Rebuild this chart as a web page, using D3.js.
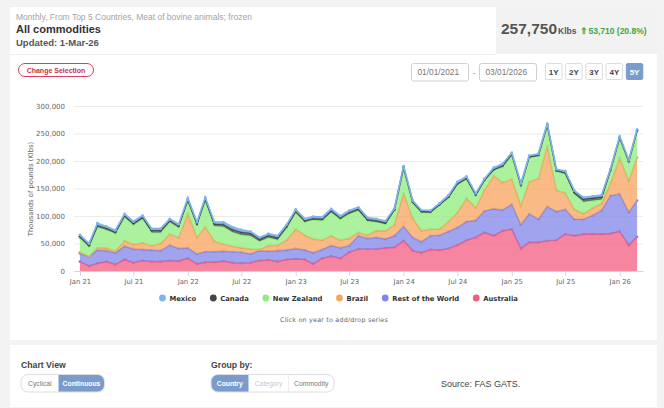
<!DOCTYPE html>
<html>
<head>
<meta charset="utf-8">
<script src="https://cdn.jsdelivr.net/npm/d3@7"></script>
<style>
body { margin: 0; background: #f3f3f3; }
svg { display: block; font-family: "Liberation Sans", Arial, sans-serif; }
.chart text { font-family: "DejaVu Sans", sans-serif; }
</style>
</head>
<body>
<div class="content"></div>
<script>
// monthly, Jan 2021 .. Mar 2026 (Klbs)
var months = d3.timeMonth.range(new Date(2021, 0, 1), new Date(2026, 3, 1));

var australia = [17000, 9000, 14000, 17000, 12000, 21000, 15000, 19000, 17000, 17000,
  19000, 18000, 23000, 13000, 16000, 16000, 18000, 15000, 14000, 15000,
  19000, 20000, 17000, 21000, 22000, 21000, 13000, 23000, 27000, 23000,
  34000, 40000, 40000, 40000, 42000, 43000, 55000, 37000, 33000, 39000,
  38000, 41000, 47000, 56000, 61000, 70000, 64000, 73000, 76000, 41000,
  52000, 52000, 55000, 56000, 67000, 64000, 67000, 67000, 67000, 68000,
  72000, 47000, 62100];
var restOfWorld = [15000, 17000, 24000, 20000, 21000, 24000, 25000, 20000, 21000, 20000,
  28000, 23000, 19000, 18000, 19000, 19000, 18000, 20000, 20000, 16000,
  18000, 16000, 20000, 17000, 19000, 17000, 20000, 16000, 19000, 19000,
  12000, 24000, 19000, 21000, 16000, 21000, 26000, 24000, 20000, 25000,
  27000, 31000, 32000, 34000, 31000, 39000, 49000, 38000, 45000, 43000,
  52000, 42000, 62000, 52000, 45000, 30000, 27000, 34000, 43000, 69000,
  68000, 60000, 66200];
var brazil = [2000, 1000, 4000, 5000, 3000, 10000, 8000, 12000, 8000, 13000,
  20000, 20000, 62000, 30000, 45000, 19000, 13000, 10000, 8000, 9000,
  2000, 10000, 10000, 18000, 35000, 27000, 25000, 17000, 18000, 14000,
  13000, 6000, 6000, 12000, 15000, 20000, 60000, 35000, 20000, 12000,
  11000, 18000, 27000, 42000, 23000, 38000, 60000, 50000, 46000, 35000,
  58000, 74000, 110000, 39000, 30000, 18000, 10000, 13000, 13000, 22000,
  65000, 57000, 77900];
var newZealand = [26000, 17000, 38000, 33000, 32000, 43000, 36000, 44000, 24000, 20000,
  22000, 18000, 23000, 22000, 48000, 28000, 32000, 26000, 24000, 24000,
  15000, 15000, 10000, 22000, 30000, 24000, 35000, 36000, 43000, 38000,
  45000, 40000, 26000, 16000, 12000, 26000, 45000, 27000, 33000, 30000,
  43000, 43000, 51000, 35000, 22000, 17000, 10000, 28000, 43000, 36000,
  44000, 41000, 37000, 34000, 35000, 28000, 22000, 14000, 7000, 23000,
  36000, 34000, 47650];
var canada = [3000, 3000, 3000, 3000, 3000, 3000, 3000, 3000, 4000, 4000,
  3000, 3000, 3000, 3000, 3000, 4000, 4000, 5000, 5000, 5000,
  4000, 4000, 4000, 3000, 3000, 3000, 3000, 3000, 3000, 3000,
  3000, 3000, 3000, 3000, 3000, 2000, 3000, 3000, 3000, 2000,
  2000, 2000, 2000, 2000, 2000, 2000, 2000, 3000, 3000, 2000,
  2000, 2000, 2000, 2000, 2000, 3000, 5000, 5000, 5000, 2000,
  2000, 2000, 2100];
var mexico = [3000, 3000, 4000, 3000, 3000, 3000, 3000, 3000, 3000, 3000,
  3000, 3000, 3000, 3000, 3000, 3000, 4000, 4000, 4000, 3000,
  3000, 3000, 3000, 3000, 3000, 3000, 3000, 3000, 3000, 3000,
  3000, 3000, 3000, 3000, 3000, 2000, 2000, 2000, 2000, 2000,
  2000, 3000, 3000, 3000, 2000, 2000, 3000, 3000, 2000, 2000,
  2000, 2000, 2000, 2000, 3000, 3000, 3000, 3000, 3000, 2000,
  2000, 2000, 1800];

var seriesNames = ["Mexico", "Canada", "New Zealand", "Brazil", "Rest of the World", "Australia"];
var seriesColors = ["#7cb5ec", "#434348", "#90ed7d", "#f7a35c", "#8085e9", "#f15c80"];
var yTicks = [0, 50000, 100000, 150000, 200000, 250000, 300000];

var rows = months.map(function (m, i) {
  return {
    date: m,
    "Mexico": mexico[i],
    "Canada": canada[i],
    "New Zealand": newZealand[i],
    "Brazil": brazil[i],
    "Rest of the World": restOfWorld[i],
    "Australia": australia[i]
  };
});

var color = d3.scaleOrdinal().domain(seriesNames).range(seriesColors);

var svg = d3.select(".content")
  .append("svg")
  .attr("width", 664)
  .attr("height", 408);

// page cards
svg.append("rect").attr("width", 664).attr("height", 408).attr("fill", "#f3f3f3");
svg.append("rect").attr("x", 10).attr("y", 7).attr("width", 647).attr("height", 333).attr("fill", "#fff");
svg.append("rect").attr("x", 10).attr("y", 345).attr("width", 647).attr("height", 62).attr("fill", "#fff");
svg.append("rect").attr("x", 496).attr("y", 7).attr("width", 161).attr("height", 47).attr("fill", "#f2f2f2");
svg.append("line").attr("x1", 10).attr("x2", 496).attr("y1", 54.5).attr("y2", 54.5).attr("stroke", "#efefef");

// header
svg.append("text").attr("x", 16).attr("y", 19.5)
  .attr("font-size", 8.5).attr("fill", "#a3a3a3")
  .text("Monthly, From Top 5 Countries, Meat of bovine animals; frozen");
svg.append("text").attr("x", 16).attr("y", 33)
  .attr("font-size", 11).attr("font-weight", "bold").attr("fill", "#333")
  .text("All commodities");
svg.append("text").attr("x", 16).attr("y", 45.5)
  .attr("font-size", 9.5).attr("font-weight", "bold").attr("fill", "#555")
  .text("Updated: 1-Mar-26");

var total = svg.append("text").attr("x", 501).attr("y", 34).attr("font-weight", "bold");
total.append("tspan").attr("font-size", 15.5).attr("fill", "#555").text("257,750");
total.append("tspan").attr("font-size", 8.5).attr("fill", "#555").attr("dx", 1).text("Klbs");
total.append("tspan").attr("font-size", 8.5).attr("fill", "#3aa845").attr("dx", 4).text("\u21D153,710 (20.8%)");

// change selection button
svg.append("rect").attr("x", 18.5).attr("y", 63.5).attr("width", 75).attr("height", 13).attr("rx", 6.5)
  .attr("fill", "#fff").attr("stroke", "#d6405c").attr("stroke-width", 1);
svg.append("text").attr("x", 56).attr("y", 72.8).attr("text-anchor", "middle")
  .attr("font-size", 7).attr("font-weight", "bold").attr("fill", "#c8304c")
  .text("Change Selection");

// date range boxes
[["01/01/2021", 411.5], ["03/01/2026", 479.5]].forEach(function (d) {
  svg.append("rect").attr("x", d[1]).attr("y", 63.5).attr("width", 57).attr("height", 17.5).attr("rx", 2)
    .attr("fill", "#fff").attr("stroke", "#d0d0d0");
  svg.append("text").attr("x", d[1] + 6).attr("y", 75.2)
    .attr("font-size", 8.3).attr("fill", "#777").text(d[0]);
});
svg.append("text").attr("x", 474).attr("y", 75).attr("text-anchor", "middle")
  .attr("font-size", 8).attr("fill", "#777").text("-");

var rangeButtons = ["1Y", "2Y", "3Y", "4Y", "5Y"];
rangeButtons.forEach(function (b, i) {
  var bx = 545.5 + i * 20.2;
  var active = b === "5Y";
  svg.append("rect").attr("x", bx).attr("y", 63.5).attr("width", 16.5).attr("height", 16).attr("rx", 1.5)
    .attr("fill", active ? "#7b9ccb" : "#fff").attr("stroke", active ? "#7b9ccb" : "#dcdcdc");
  svg.append("text").attr("x", bx + 8.25).attr("y", 74.8).attr("text-anchor", "middle")
    .attr("font-size", 8).attr("font-weight", "bold").attr("fill", active ? "#fff" : "#444").text(b);
});

// chart
var chart = svg.append("g").attr("class", "chart");

var x = d3.scaleTime()
  .domain([new Date(2020, 11, 12), new Date(2026, 2, 21)])
  .range([74, 643]);
var y = d3.scaleLinear().domain([0, 300000]).range([271, 106]);

var axisY = chart.append("g")
  .attr("transform", "translate(74,0)")
  .call(d3.axisLeft(y).tickValues(yTicks).tickSize(-569).tickPadding(9).tickFormat(d3.format(",")));
axisY.select(".domain").remove();
axisY.selectAll("line").attr("stroke", "#ebebeb");
axisY.selectAll("text").attr("fill", "#666").attr("font-size", 7).attr("font-family", "DejaVu Sans");

chart.append("text")
  .attr("transform", "translate(33,189) rotate(-90)")
  .attr("text-anchor", "middle")
  .attr("font-size", 6.8).attr("fill", "#666")
  .text("Thousands of pounds (Klbs)");

var stack = d3.stack().keys(seriesNames.slice().reverse());
var layers = stack(rows);

var area = d3.area()
  .x(function (d) { return x(d.data.date); })
  .y0(function (d) { return y(d[0]); })
  .y1(function (d) { return y(d[1]); });
var line = d3.line()
  .x(function (d) { return x(d.data.date); })
  .y(function (d) { return y(d[1]); });

var series = chart.append("g").selectAll("g")
  .data(layers)
  .enter().append("g");

series.append("path")
  .attr("d", area)
  .attr("fill", function (d) { return color(d.key); })
  .attr("fill-opacity", 0.75);
series.append("path")
  .attr("d", line)
  .attr("fill", "none")
  .attr("stroke", function (d) { return color(d.key); })
  .attr("stroke-width", 1.6);
series.selectAll("circle")
  .data(function (d) { return d.map(function (p) { return { p: p, key: d.key }; }); })
  .enter().append("circle")
  .attr("cx", function (d) { return x(d.p.data.date); })
  .attr("cy", function (d) { return y(d.p[1]); })
  .attr("r", 1.3)
  .attr("fill", function (d) { return color(d.key); });

var axisX = chart.append("g")
  .attr("transform", "translate(0,271)")
  .call(d3.axisBottom(x)
    .tickValues(d3.timeMonth.every(6).range(new Date(2021, 0, 1), new Date(2026, 1, 1)))
    .tickFormat(d3.timeFormat("%b %y"))
    .tickSize(5).tickSizeOuter(0).tickPadding(3));
axisX.select(".domain").attr("stroke", "#ccd6eb");
axisX.selectAll("line").attr("stroke", "#ccd6eb");
axisX.selectAll("text").attr("fill", "#666").attr("font-size", 6.8).attr("font-family", "DejaVu Sans");

// legend
var legend = chart.append("g").attr("transform", "translate(0,298)");
var lx = 159;
seriesNames.forEach(function (name) {
  var item = legend.append("g").attr("transform", "translate(" + lx + ",0)");
  item.append("circle").attr("cx", 3.5).attr("cy", 0).attr("r", 3.4).attr("fill", color(name));
  var t = item.append("text").attr("x", 10.5).attr("y", 2.6)
    .attr("font-size", 6.8).attr("font-weight", "bold").attr("fill", "#333").text(name);
  lx += 10.5 + t.node().getComputedTextLength() + 13.5;
});

chart.append("text").attr("x", 334).attr("y", 321.5).attr("text-anchor", "middle")
  .attr("font-size", 6.4).attr("fill", "#666").attr("letter-spacing", 0.2)
  .text("Click on year to add/drop series");

// bottom controls
function toggle(x0, yTop, widths, labels, activeIdx, dividers) {
  var w = d3.sum(widths), h = 17.5;
  var id = "clip" + x0;
  svg.append("clipPath").attr("id", id)
    .append("rect").attr("x", x0).attr("y", yTop).attr("width", w).attr("height", h).attr("rx", 7);
  var g = svg.append("g");
  var cx = x0;
  widths.forEach(function (bw, i) {
    if (i === activeIdx) {
      g.append("rect").attr("x", cx).attr("y", yTop).attr("width", bw).attr("height", h)
        .attr("fill", "#7b9ccb").attr("clip-path", "url(#" + id + ")");
    }
    var fill = i === activeIdx ? "#fff" : (labels[i] === "Category" ? "#c8c8c8" : "#777");
    g.append("text").attr("x", cx + bw / 2).attr("y", yTop + 11.3).attr("text-anchor", "middle")
      .attr("font-size", 6.8).attr("font-weight", i === activeIdx ? "bold" : "normal")
      .attr("fill", fill).text(labels[i]);
    cx += bw;
  });
  (dividers || []).forEach(function (dx) {
    g.append("line").attr("x1", dx).attr("x2", dx).attr("y1", yTop).attr("y2", yTop + h)
      .attr("stroke", "#eee");
  });
  g.append("rect").attr("x", x0).attr("y", yTop).attr("width", w).attr("height", h).attr("rx", 7)
    .attr("fill", "none").attr("stroke", "#dedede");
}

svg.append("text").attr("x", 21).attr("y", 368).attr("font-size", 8.7).attr("font-weight", "bold")
  .attr("fill", "#444").text("Chart View");
toggle(21, 374.5, [37.5, 46], ["Cyclical", "Continuous"], 1);

svg.append("text").attr("x", 211).attr("y", 368).attr("font-size", 8.7).attr("font-weight", "bold")
  .attr("fill", "#444").text("Group by:");
toggle(211, 374.5, [37.5, 40, 45.5], ["Country", "Category", "Commodity"], 0, [288.5]);

svg.append("text").attr("x", 441).attr("y", 387).attr("font-size", 9).attr("fill", "#444")
  .text("Source: FAS GATS.");
</script>
</body>
</html>
